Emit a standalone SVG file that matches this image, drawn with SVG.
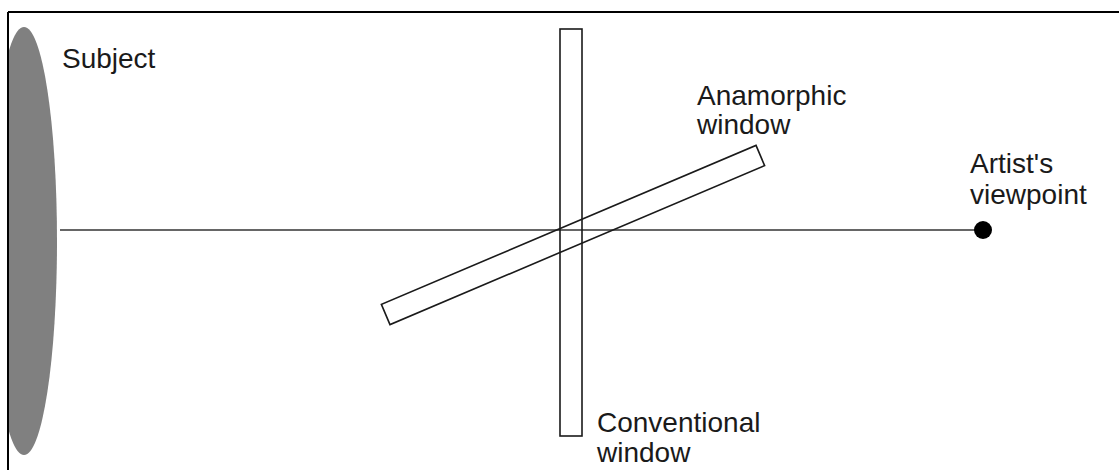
<svg xmlns="http://www.w3.org/2000/svg" width="1119" height="470" viewBox="0 0 1119 470">
<style>
.lbl{font-family:"Liberation Sans",Arial,sans-serif;font-size:28px;fill:#1a1a1a}
.win{fill:#fff;stroke:#1a1a1a;stroke-width:1.6}
</style>
<rect x="0" y="0" width="1119" height="470" fill="#fff"/>
<defs><clipPath id="c"><rect x="8" y="12" width="1111" height="458"/></clipPath></defs>
<g id="subject">
<ellipse cx="24" cy="241" rx="33" ry="214" fill="#808080" clip-path="url(#c)"/>
<text class="lbl" x="62" y="68">Subject</text>
</g>
<g id="connectors">
<line x1="60" y1="230" x2="983" y2="230" stroke="#333" stroke-width="1.6"/>
</g>
<g id="conventional-window">
<rect class="win" x="560" y="29" width="22" height="407" fill-opacity="0"/>
<text class="lbl" x="597" y="432">Conventional</text>
<text class="lbl" x="597" y="462">window</text>
</g>
<g id="anamorphic-window">
<rect class="win" x="-203.5" y="-11" width="407" height="22" fill-opacity="0" transform="translate(573 235) rotate(-23)"/>
<text class="lbl" x="697" y="105">Anamorphic</text>
<text class="lbl" x="697" y="134">window</text>
</g>
<g id="viewpoint">
<circle cx="983" cy="230" r="9" fill="#000"/>
<text class="lbl" x="970" y="173">Artist's</text>
<text class="lbl" x="970" y="204">viewpoint</text>
</g>
<g id="frame">
<line x1="8" y1="12" x2="1119" y2="12" stroke="#000" stroke-width="2"/>
<line x1="8" y1="12" x2="8" y2="470" stroke="#000" stroke-width="2"/>
</g>
</svg>
